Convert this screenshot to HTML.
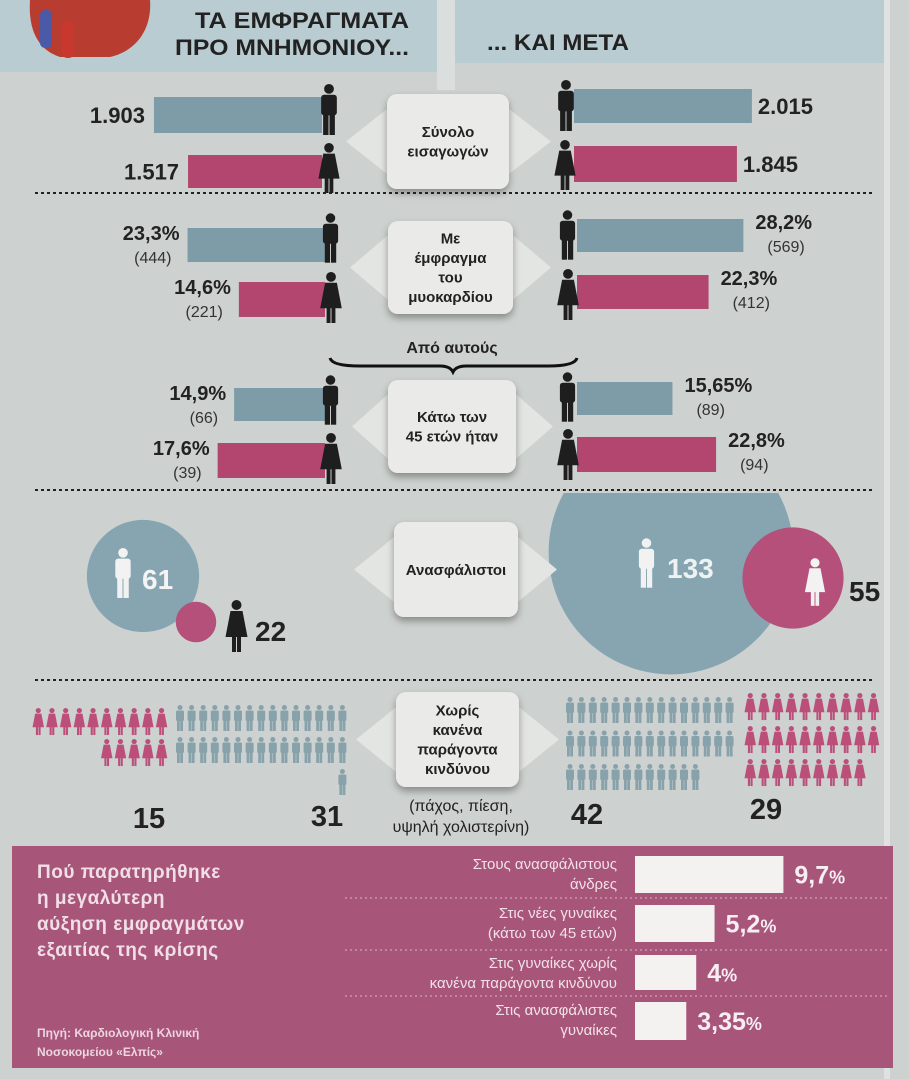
<!DOCTYPE html>
<html><head><meta charset="utf-8"><style>
html,body{margin:0;padding:0;background:#cdd1cf;}
svg{display:block;font-family:"Liberation Sans",sans-serif;}
</style></head><body>
<svg id="chart" width="909" height="1079" viewBox="0 0 909 1079" xmlns="http://www.w3.org/2000/svg">
<defs>
<symbol id="man" viewBox="0 0 20 52"><circle cx="10" cy="5" r="5"/><rect x="2" y="11" width="16" height="21" rx="3"/><rect x="4" y="30" width="5.5" height="22"/><rect x="10.5" y="30" width="5.5" height="22"/></symbol>
<symbol id="woman" viewBox="0 0 24 52"><circle cx="12" cy="5" r="5"/><polygon points="6,11 18,11 23,37 1,37"/><rect x="7.5" y="36" width="4" height="16"/><rect x="12.5" y="36" width="4" height="16"/></symbol>
<filter id="sh" x="-20%" y="-20%" width="140%" height="150%"><feGaussianBlur in="SourceAlpha" stdDeviation="4"/><feOffset dy="4"/><feComponentTransfer><feFuncA type="linear" slope="0.35"/></feComponentTransfer><feMerge><feMergeNode/><feMergeNode in="SourceGraphic"/></feMerge></filter>
</defs>
<rect x="0" y="0" width="909" height="1079" fill="#cdd1cf"/>
<rect x="884" y="0" width="6" height="1079" fill="#dfe2e0"/>
<rect x="0" y="0" width="437" height="72" fill="#b9ccd2"/>
<rect x="455" y="0" width="429" height="63" fill="#b9ccd2"/>
<rect x="437" y="0" width="18" height="90" fill="#dadedc"/>
<g>
<path d="M30,0 L150,0 C152,25 140,50 110,57 L60,57 C38,50 28,30 30,0 Z" fill="#b83c30"/>
<rect x="40" y="10" width="12" height="38" rx="5" fill="#4a5aa8"/>
<rect x="62" y="22" width="12" height="36" rx="5" fill="#c8382f"/>
</g>
<text x="302" y="28" text-anchor="middle" font-size="22" font-weight="bold" fill="#222" textLength="214" lengthAdjust="spacingAndGlyphs">ΤΑ ΕΜΦΡΑΓΜΑΤΑ</text>
<text x="292" y="55" text-anchor="middle" font-size="22" font-weight="bold" fill="#222" textLength="234" lengthAdjust="spacingAndGlyphs">ΠΡΟ ΜΝΗΜΟΝΙΟΥ...</text>
<text x="487" y="50" font-size="22" font-weight="bold" fill="#222" textLength="142" lengthAdjust="spacingAndGlyphs">... ΚΑΙ ΜΕΤΑ</text>
<g id="marks"></g>
</svg>
<script>
// ---- data ----
var totalBefore = [1903, 1517];
var totalAfter = [2015, 1845];
var miPctBefore = [23.3, 14.6];
var miCountBefore = [444, 221];
var miPctAfter = [28.2, 22.3];
var miCountAfter = [569, 412];
var youngPctBefore = [14.9, 17.6];
var youngCountBefore = [66, 39];
var youngPctAfter = [15.65, 22.8];
var youngCountAfter = [89, 94];
var uninsuredBefore = [61, 22];
var uninsuredAfter = [133, 55];
var noRiskCounts = [15, 31, 42, 29];
var increaseLabels = [["Στους ανασφάλιστους","άνδρες"],["Στις νέες γυναίκες","(κάτω των 45 ετών)"],["Στις γυναίκες χωρίς","κανένα παράγοντα κινδύνου"],["Στις ανασφάλιστες","γυναίκες"]];
var increaseValues = [9.7, 5.2, 4, 3.35];

var NS = "http://www.w3.org/2000/svg";
var root = document.getElementById('marks');
var BLUE = "#7e9ca8", PINK = "#b3466e", DARK = "#1e1e1e";
function mk(tag, attrs, parent){ var e = document.createElementNS(NS, tag); for (var k in attrs) e.setAttribute(k, attrs[k]); (parent||root).appendChild(e); return e; }
function txt(s, attrs){ var e = mk('text', attrs); e.textContent = s; return e; }
function fmtInt(v){ var s = String(v); return s.length > 3 ? s.slice(0, s.length-3) + "." + s.slice(-3) : s; }
function fmtPct(v){ return String(v).replace('.', ',') + "%"; }
function icon(kind, x, y, w, h, fill){ var u = mk('use', {href:'#'+kind, x:x, y:y, width:w, height:h, fill:fill}); return u; }

function connector(name, bx1, bx2, by1, by2, tl, tr, lines, fs){
  var g = mk('g', {});  
  var cy = (by1 + by2) / 2, hh = Math.min(34, (by2-by1)/2 - 8);
  mk('polygon', {points: tl+","+cy+" "+(bx1+2)+","+(cy-hh)+" "+(bx1+2)+","+(cy+hh), fill:"#e3e5e2"}, g);
  mk('polygon', {points: tr+","+cy+" "+(bx2-2)+","+(cy-hh)+" "+(bx2-2)+","+(cy+hh), fill:"#e3e5e2"}, g);
  mk('rect', {x:bx1, y:by1, width:bx2-bx1, height:by2-by1, rx:10, fill:"#eaebe8", filter:"url(#sh)"}, g);
  var lh = fs * 1.3, y0 = cy - (lines.length-1) * lh / 2 + fs * 0.35;
  lines.forEach(function(l, i){ var t = mk('text', {x:(bx1+bx2)/2, y:y0 + i*lh, 'text-anchor':'middle', 'font-size':fs, 'font-weight':'bold', fill:"#222"}, g); t.textContent = l; });
}

// section 1: totals
var k1 = 0.0883, L1 = 322, R1 = 574;
var rowsL1 = [[97,133],[155,188]], rowsR1 = [[89,123],[146,182]];
[0,1].forEach(function(i){
  var w = totalBefore[i] * k1, r = rowsL1[i];
  var b = mk('rect', {x:L1-w, y:r[0], width:w, height:r[1]-r[0], fill: i ? PINK : BLUE});
  
  
  var t = txt(fmtInt(totalBefore[i]), {x:L1-w-9, y:(r[0]+r[1])/2+8, 'text-anchor':'end', 'font-size':22, 'font-weight':'bold', fill:"#222"});
   
  var w2 = totalAfter[i] * k1, r2 = rowsR1[i];
  var b2 = mk('rect', {x:R1, y:r2[0], width:w2, height:r2[1]-r2[0], fill: i ? PINK : BLUE});
  
  
  var t2 = txt(fmtInt(totalAfter[i]), {x:R1+w2+6, y:(r2[0]+r2[1])/2+8, 'font-size':22, 'font-weight':'bold', fill:"#222"});
   
});
icon('man', 319, 84, 20, 51, DARK); icon('woman', 317, 143, 24, 50, DARK);
icon('man', 556, 80, 20, 51, DARK); icon('woman', 553, 140, 24, 50, DARK);
connector('box-total-admissions', 387, 509, 94, 189, 346, 551, ["Σύνολο","εισαγωγών"], 15);

function pctSection(name, pb, cb, pa, ca, k, L, R, rowsL, rowsR, icons){
  [0,1].forEach(function(i){
    var w = pb[i] * k, r = rowsL[i];
    var b = mk('rect', {x:L-w, y:r[0], width:w, height:r[1]-r[0], fill: i ? PINK : BLUE});
    
    
    var t = txt(fmtPct(pb[i]), {x:L-w-8, y:r[0]+12, 'text-anchor':'end', 'font-size':20, 'font-weight':'bold', fill:"#222"});
     
    var c = txt("(" + cb[i] + ")", {x:L-w-16, y:r[0]+35, 'text-anchor':'end', 'font-size':16, fill:"#333"});
     
    var w2 = pa[i] * k, r2 = rowsR[i];
    var b2 = mk('rect', {x:R, y:r2[0], width:w2, height:r2[1]-r2[0], fill: i ? PINK : BLUE});
    
    
    var t2 = txt(fmtPct(pa[i]), {x:R+w2+12, y:r2[0]+10, 'font-size':20, 'font-weight':'bold', fill:"#222"});
     
    var c2 = txt("(" + ca[i] + ")", {x:R+w2+24, y:r2[0]+33, 'font-size':16, fill:"#333"});
     
  });
  icon('man', 321, icons[0], 19, 50, DARK); icon('woman', 319, icons[1], 24, 51, DARK);
  icon('man', 558, icons[2], 19, 50, DARK); icon('woman', 556, icons[3], 24, 51, DARK);
}
pctSection('mi', miPctBefore, miCountBefore, miPctAfter, miCountAfter, 5.9, 325, 577, [[228,262],[282,317]], [[219,252],[275,309]], [213,272,210,269]);
connector('box-myocardial', 388, 513, 221, 314, 350, 551, ["Με","έμφραγμα","του","μυοκαρδίου"], 15);
pctSection('young', youngPctBefore, youngCountBefore, youngPctAfter, youngCountAfter, 6.1, 325, 577, [[388,421],[443,478]], [[382,415],[437,472]], [375,433,372,429]);
connector('box-under-45', 388, 516, 380, 473, 352, 553, ["Κάτω των","45 ετών ήταν"], 15);
var ap = txt("Από αυτούς", {x:452, y:353, 'text-anchor':'middle', 'font-size':16, 'font-weight':'bold', fill:"#222"});
 
var br = mk('path', {d:"M330,358 Q332,366 360,366 L440,366 Q450,366 453,372 Q456,366 466,366 L548,366 Q575,366 577,358", fill:"none", stroke:"#111", 'stroke-width':3});
 

// dashed separators
[193, 490, 680].forEach(function(y){
  var l = mk('line', {x1:35, y1:y, x2:872, y2:y, stroke:"#222", 'stroke-width':2, 'stroke-dasharray':"3,3"});
   
});

// uninsured circles
var rk = 0.92;
var clip = mk('clipPath', {id:'clipu'}); mk('rect', {x:0, y:493, width:909, height:200}, clip);
var c1 = mk('circle', {cx:143, cy:576, r:uninsuredBefore[0]*rk, fill:"#86a5b0"});
 
var c2 = mk('circle', {cx:196, cy:622, r:uninsuredBefore[1]*rk, fill:"#b5507a"});
 
var c3 = mk('circle', {cx:671, cy:552, r:uninsuredAfter[0]*rk, fill:"#86a5b0", 'clip-path':'url(#clipu)'});
 
var c4 = mk('circle', {cx:793, cy:578, r:uninsuredAfter[1]*rk, fill:"#b5507a"});
 
icon('man', 113, 548, 20, 50, "#f2f2f2"); icon('woman', 224, 600, 25, 52, DARK);
icon('man', 637, 538, 19, 50, "#f2f2f2"); icon('woman', 804, 557, 22, 50, "#f2f2f2");
[[uninsuredBefore[0],142,589,"#f4f4f4"],[uninsuredBefore[1],255,641,"#222"],[uninsuredAfter[0],667,578,"#eef2f3"],[uninsuredAfter[1],849,601,"#222"]].forEach(function(d){
  var t = txt(String(d[0]), {x:d[1], y:d[2], 'font-size':28, 'font-weight':'bold', fill:d[3]});
   
});
connector('box-uninsured', 394, 518, 522, 617, 354, 557, ["Ανασφάλιστοι"], 15);

// no-risk pictograms
function picto(name, count, perRow, anchorX, alignRight, y0, rowPitch, pitch, kind, w, h, fill){
  for (var i = 0; i < count; i++){
    var row = Math.floor(i / perRow), col = i % perRow;
    var inRow = Math.min(perRow, count - row * perRow);
    var x = alignRight ? anchorX - (inRow - col) * pitch : anchorX + col * pitch;
    var u = icon(kind, x, y0 + row * rowPitch, w, h, fill);
    
    
  }
}
picto('pictogram-women-before', noRiskCounts[0], 10, 169, true, 707, 31, 13.7, 'woman', 12.5, 29, "#bb4f7a");
picto('pictogram-men-before', noRiskCounts[1], 15, 349, true, 703, 32, 11.6, 'man', 10, 30, "#88a2ac");
picto('pictogram-men-after', noRiskCounts[2], 15, 565, false, 695, 33.5, 11.4, 'man', 10, 30, "#88a2ac");
picto('pictogram-women-after', noRiskCounts[3], 10, 744, false, 692, 33, 13.7, 'woman', 12.5, 29, "#bb4f7a");
[[noRiskCounts[0],149,828],[noRiskCounts[1],327,826],[noRiskCounts[2],587,824],[noRiskCounts[3],766,819]].forEach(function(d){
  var t = txt(String(d[0]), {x:d[1], y:d[2], 'text-anchor':'middle', 'font-size':29, 'font-weight':'bold', fill:"#222"});
   
});
connector('box-no-risk', 396, 519, 692, 787, 356, 559, ["Χωρίς","κανένα","παράγοντα","κινδύνου"], 15);
var n1 = txt("(πάχος, πίεση,", {x:461, y:811, 'text-anchor':'middle', 'font-size':16, fill:"#222"});
 
var n2 = txt("υψηλή χολιστερίνη)", {x:461, y:832, 'text-anchor':'middle', 'font-size':16, fill:"#222"});
 

// bottom panel
var pn = mk('rect', {x:12, y:846, width:881, height:222, fill:"#a8557a"});
 
["Πού παρατηρήθηκε","η μεγαλύτερη","αύξηση εμφραγμάτων","εξαιτίας της κρίσης"].forEach(function(l, i){
  var t = txt(l, {x:37, y:878 + i*26, 'font-size':19, 'font-weight':'bold', fill:"#f1dfe7", 'letter-spacing':'0.5'});
   
});
var s1 = txt("Πηγή: Καρδιολογική Κλινική", {x:37, y:1037, 'font-size':12, 'font-weight':'bold', fill:"#ecd6df"});
 
var s2 = txt("Νοσοκομείου «Ελπίς»", {x:37, y:1056, 'font-size':12, 'font-weight':'bold', fill:"#ecd6df"});
 
var kb = 15.3, bx = 635, rowTop = [856, 905, 955, 1002], rowH = [37, 37, 35, 38];
[898, 950, 996].forEach(function(y){
  var l = mk('line', {x1:345, y1:y, x2:890, y2:y, stroke:"#d9b4c5", 'stroke-width':1, 'stroke-dasharray':"2,3"});
   
});
increaseValues.forEach(function(v, i){
  var w = v * kb;
  var b = mk('rect', {x:bx, y:rowTop[i], width:w, height:rowH[i], fill:"#f4f2f1"});
  
  
  var t = mk('text', {x:bx + w + 11, y:rowTop[i] + rowH[i]/2 + 9, 'font-size':25, 'font-weight':'bold', fill:"#f6eef2"});
  
  
  var num = String(v).replace('.', ',');
  t.textContent = num;
  var ts = mk('tspan', {'font-size':18}, t); ts.textContent = "%";
  increaseLabels[i].forEach(function(l, j){
    var lt = txt(l, {x:617, y:rowTop[i] + 13 + j*20, 'text-anchor':'end', 'font-size':15, fill:"#f1e2e8"});
     
  });
});
</script>
</body></html>
